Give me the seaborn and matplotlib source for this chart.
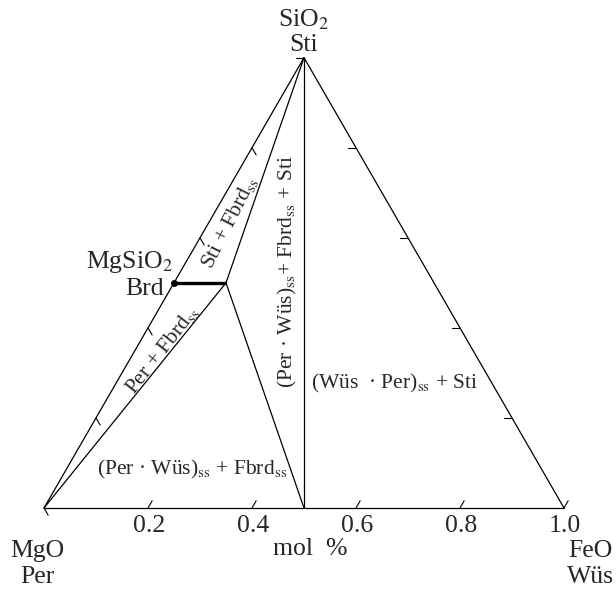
import numpy as np
import pandas as pd
import matplotlib
matplotlib.use("Agg")
import matplotlib.pyplot as plt
import seaborn as sns

sns.set_style("white")
plt.rcParams['font.family'] = ['Liberation Serif', 'DejaVu Serif']
plt.rcParams['mathtext.fontset'] = 'stix'

# составы (MgO, FeO, SiO2), мольные доли
corners = {'MgO': (1.0, 0.0, 0.0), 'FeO': (0.0, 1.0, 0.0), 'SiO2': (0.0, 0.0, 1.0)}
brd = (0.5, 0.0, 0.5)        # MgSiO3 бриджманит
fbrd = (0.4, 0.1, 0.5)       # предел твердого раствора Fbrd
mw50 = (0.5, 0.5, 0.0)       # (Mg0.5Fe0.5)O

# фазовые границы: пары составов
boundaries = [
    (corners['MgO'], corners['FeO']),
    (corners['FeO'], corners['SiO2']),
    (corners['SiO2'], corners['MgO']),
    (corners['SiO2'], fbrd),
    (corners['MgO'], fbrd),
    (fbrd, mw50),
    (corners['SiO2'], mw50),
]
tick_vals = [0.2, 0.4, 0.6, 0.8, 1.0]
edge_ticks = [0.0, 0.2, 0.4, 0.6, 0.8]


def tern(c):
    mg, fe, si = c
    return fe + 0.5 * si, si * np.sqrt(3) / 2


rows = []
for i, (a, b) in enumerate(boundaries):
    for c in (a, b):
        x, y = tern(c)
        rows.append({'x': x, 'y': y, 'seg': i})
lines_df = pd.DataFrame(rows)

fig = plt.figure(figsize=(6.16, 5.89), dpi=100)
ax = fig.add_axes([0, 0, 1, 1])
ax.set_xlim(-44 / 520, 572 / 520)
ax.set_ylim(-81 / 520, 508 / 520)
ax.axis('off')

sns.lineplot(data=lines_df, x='x', y='y', units='seg', estimator=None, sort=False,
             color='black', lw=0.9, ax=ax, legend=False)

# твердый раствор Brd - Fbrd
bx, by = zip(tern(brd), tern(fbrd))
ax.plot(bx, by, color='black', lw=2.4, solid_capstyle='butt')
ax.plot(*tern(brd), 'o', color='black', ms=4)

# засечки
L = 0.016
h = np.sqrt(3) / 2
for t in tick_vals:
    ax.plot([t, t + L * 0.5], [0, L * h], color='black', lw=0.8)
for t in edge_ticks:
    # правая сторона (от SiO2 к FeO)
    x0, y0 = 0.5 + 0.5 * t, h * (1 - t)
    ax.plot([x0, x0 - L], [y0, y0], color='black', lw=0.8)
    # левая сторона (от MgO к SiO2)
    x0, y0 = 0.5 * t, h * t
    ax.plot([x0, x0 + L * 0.5], [y0, y0 - L * h], color='black', lw=0.8)

fs = 18.5
for t in tick_vals:
    ax.text(t + 0.002, -0.035, f'{t:.1f}', ha='center', va='center', fontsize=fs)


def px(x, y):
    return (x - 44) / 520, (508 - y) / 520


ax.text(*px(304, 20), 'SiO$_2$', ha='center', va='center', fontsize=fs)
ax.text(*px(304, 45), 'Sti', ha='center', va='center', fontsize=fs)
ax.text(*px(37, 551), 'MgO', ha='center', va='center', fontsize=fs)
ax.text(*px(37, 577), 'Per', ha='center', va='center', fontsize=fs)
ax.text(*px(590, 551), 'FeO', ha='center', va='center', fontsize=fs)
ax.text(*px(590, 577), 'Wüs', ha='center', va='center', fontsize=fs)
ax.text(*px(310, 549), 'mol  %', ha='center', va='center', fontsize=fs)
ax.text(*px(173, 262), 'MgSiO$_2$', ha='right', va='center', fontsize=fs)
ax.text(*px(145, 289), 'Brd', ha='center', va='center', fontsize=fs)

rs = 15.5
ax.text(*px(230, 222), 'Sti + Fbrd$_{\\rm ss}$', ha='center', va='center',
        fontsize=rs, rotation=63, rotation_mode='anchor')
ax.text(*px(162, 350), 'Per + Fbrd$_{\\rm ss}$', ha='center', va='center',
        fontsize=rs, rotation=52, rotation_mode='anchor')
ax.text(*px(287, 272), '(Per · Wüs)$_{\\rm ss}$+ Fbrd$_{\\rm ss}$ + Sti', ha='center',
        va='center', fontsize=rs, rotation=90, rotation_mode='anchor')
ax.text(*px(192, 469), '(Per · Wüs)$_{\\rm ss}$ + Fbrd$_{\\rm ss}$', ha='center',
        va='center', fontsize=rs)
ax.text(*px(395, 383), '(Wüs  · Per)$_{\\rm ss}$ + Sti', ha='center', va='center',
        fontsize=rs)

fig.savefig('out.png', dpi=100)
